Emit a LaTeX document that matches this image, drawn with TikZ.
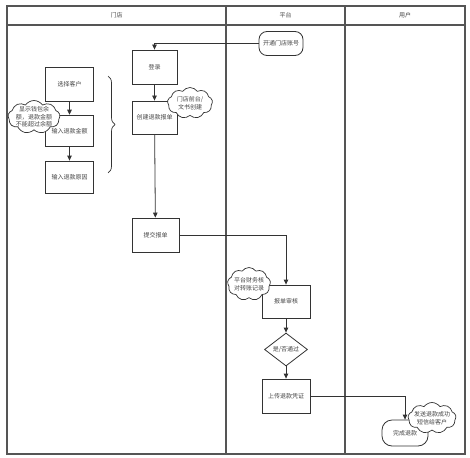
\documentclass[tikz,border=0pt]{standalone}
\usepackage{fontspec}
\newfontfamily\cjk{Noto Sans CJK SC}
\usetikzlibrary{shapes.geometric,shapes.symbols,arrows.meta,decorations.pathreplacing}
\definecolor{ln}{HTML}{333333}
\definecolor{fr}{HTML}{555555}
\definecolor{tx}{HTML}{444444}
\tikzset{
  every node/.style={font=\cjk\fontsize{6}{7.5}\selectfont, text=tx},
  proc/.style={draw=ln, line width=0.8pt, fill=white, inner sep=0pt, minimum width=47pt, minimum height=33pt},
  term/.style={proc, rounded corners=8pt},
  decis/.style={draw=ln, line width=0.8pt, fill=white, diamond, inner sep=0pt, minimum width=43pt, minimum height=33pt},
  note/.style={draw=ln, line width=0.7pt, fill=white, cloud, cloud puffs=9, cloud puff arc=110, aspect=1.5, cloud ignores aspect, inner sep=0pt},
  arr/.style={draw=ln, line width=0.8pt, -{Triangle[width=4.5pt,length=5pt]}},
  lane/.style={draw=fr, line width=1.1pt}
}
\begin{document}
\begin{tikzpicture}[x=1pt,y=-1pt]
\useasboundingbox (0,0) rectangle (470,457);
% frame and lanes
\draw[lane] (7,6) rectangle (465,454);
\draw[lane] (7,25) -- (465,25);
\draw[lane] (226,6) -- (226,454);
\draw[lane, line width=1.5pt] (345,6) -- (345,454);
\node (h1) at (116.5,15.5) {门店};
\node (h2) at (285.5,15.5) {平台};
\node (h3) at (405,15.5) {用户};
% store lane
\node[proc, minimum width=47.6pt, minimum height=33.3pt] (xz) at (69.5,84.3) {选择客户};
\node[proc, minimum width=47.6pt, minimum height=31.7pt] (je) at (69.5,131) {输入退款金额};
\node[proc, minimum width=47.6pt, minimum height=32pt] (yy) at (69.5,177) {输入退款原因};
\draw[arr] (xz) -- (je);
\draw[arr] (je) -- (yy);
\draw[draw=ln, line width=0.7pt, decorate, decoration={brace, amplitude=7pt}] (108,76) -- (108,173);
\node[proc, minimum width=45pt, minimum height=34pt] (dl) at (154.5,67) {登录};
\node[proc, minimum width=45pt, minimum height=33pt] (cj) at (154.5,117.5) {创建退款报单};
\node[proc, minimum width=47pt, minimum height=34pt] (tj) at (155.5,235) {提交报单};
% platform lane
\node[term, minimum width=44pt, minimum height=24pt] (kt) at (281,43.5) {开通门店账号};
\node[proc, minimum width=48pt, minimum height=33pt] (sh) at (286,301.5) {报单审核};
\node[decis, label={[text=tx]center:是/否通过}] (pd) at (286,349.5) {};
\node[proc, minimum width=48pt, minimum height=34pt] (sc) at (286,396) {上传退款凭证};
% user lane
\node[proc, rounded corners=10pt, minimum width=46pt, minimum height=26pt] (wc) at (405,433) {完成退款};
% connectors
\draw[arr] (kt.west) -| (dl.north);
\draw[arr] (dl) -- (cj);
\draw[arr] (cj) -- (tj);
\draw[arr] (tj.east) -| (sh.north);
\draw[arr] (sh) -- (pd);
\draw[arr] (pd) -- (sc);
\draw[arr] (sc.east) -| (wc.north);
% notes
\node[note, minimum width=52pt, minimum height=33pt, label={[align=center, text=tx]center:显示钱包余\\额，退款金额\\不能超过余额}] (n1) at (34,117) {};
\node[note, minimum width=45pt, minimum height=31pt, label={[align=center, text=tx]center:门店前台/\\文书创建}] (n2) at (190,103) {};
\node[note, minimum width=43pt, minimum height=33pt, label={[align=center, text=tx]center:平台财务核\\对转账记录}] (n3) at (249,284) {};
\node[note, minimum width=48pt, minimum height=31pt, label={[align=center, text=tx]center:发送退款成功\\短信给客户}] (n4) at (432,418) {};
\end{tikzpicture}
\end{document}
